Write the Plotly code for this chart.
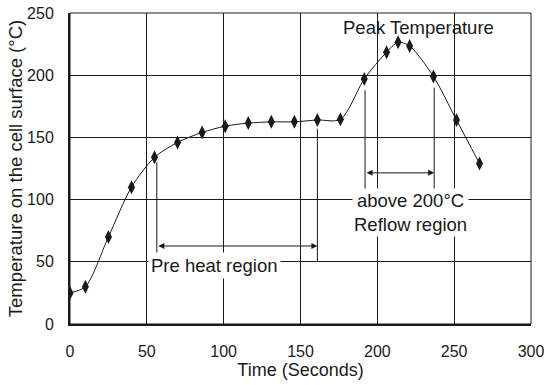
import plotly.graph_objects as go

time_s = [0, 10, 25, 40, 55, 70, 86, 101, 116, 131, 146, 161, 176, 191.5, 206, 213.5, 221, 236.5, 251.5, 266.5]
temp_c = [25, 30, 70, 110, 134, 146, 154, 159, 161.5, 162.5, 162.5, 164, 164.5, 197, 218.5, 226.5, 223.5, 199, 164, 129]

x_ticks = [0, 50, 100, 150, 200, 250, 300]
y_ticks = [0, 50, 100, 150, 200, 250]

FONT = "Liberation Sans, Arial, sans-serif"
INK = "#1a1a1a"

fig = go.Figure()
fig.add_trace(go.Scatter(
    x=time_s, y=temp_c, mode="lines+markers",
    line=dict(color=INK, width=1, shape="spline", smoothing=0.8),
    marker=dict(symbol="diamond-tall", size=10, color=INK),
    showlegend=False,
))

shapes = []
for (x, y0, y1) in [(56.5, 50, 130), (161, 50, 157), (192, 105, 188), (237, 105, 190)]:
    shapes.append(dict(type="line", xref="x", yref="y", x0=x, x1=x, y0=y0, y1=y1,
                       line=dict(color=INK, width=1), layer="above"))
shapes.append(dict(type="rect", xref="paper", yref="paper", x0=0, x1=1, y0=0, y1=1,
                   line=dict(color=INK, width=1)))
fig.update_layout(shapes=shapes)

ann = []
ann.append(dict(x=161, y=62.7, ax=56.5, ay=62.7, xref="x", yref="y", axref="x", ayref="y",
                text="", showarrow=True, arrowhead=2, arrowside="end+start",
                arrowsize=1.2, arrowwidth=1, arrowcolor=INK))
ann.append(dict(x=237, y=121.5, ax=192, ay=121.5, xref="x", yref="y", axref="x", ayref="y",
                text="", showarrow=True, arrowhead=2, arrowside="end+start",
                arrowsize=1.2, arrowwidth=1, arrowcolor=INK))
ann.append(dict(x=94, y=47, xref="x", yref="y", text="Pre heat region", showarrow=False,
                bgcolor="white", font=dict(size=18.5, color=INK, family=FONT), borderpad=2))
ann.append(dict(x=221.5, y=90, xref="x", yref="y", text="above 200°C<br>Reflow region",
                showarrow=False, bgcolor="white", font=dict(size=18.5, color=INK, family=FONT),
                borderpad=1))
ann.append(dict(x=226.5, y=238, xref="x", yref="y", text="Peak Temperature", showarrow=False,
                font=dict(size=18.5, color=INK, family=FONT)))
fig.update_layout(annotations=ann)

axis_common = dict(showgrid=True, gridcolor=INK, gridwidth=1, zeroline=False,
                   showline=True, linecolor=INK, linewidth=2, ticks="", automargin=False,
                   ticklabeloverflow="allow",
                   tickfont=dict(size=16, color=INK, family=FONT))
fig.update_xaxes(range=[0, 300], tickvals=x_ticks, ticklabelstandoff=12,
                 title=dict(text="Time (Seconds)", font=dict(size=18, color=INK, family=FONT), standoff=4),
                 **axis_common)
fig.update_yaxes(range=[0, 250], tickvals=y_ticks, ticklabelstandoff=11,
                 title=dict(text="Temperature on the cell surface (°C)", font=dict(size=18.5, color=INK, family=FONT), standoff=0),
                 **axis_common)
fig.update_layout(width=544, height=385, margin=dict(l=70, r=13, t=13, b=61),
                  plot_bgcolor="white", paper_bgcolor="white",
                  font=dict(family=FONT, color=INK))
fig.write_html("out.html", config={"displayModeBar": False},
               post_script="document.body.style.margin='0';document.body.style.overflow='hidden';")
